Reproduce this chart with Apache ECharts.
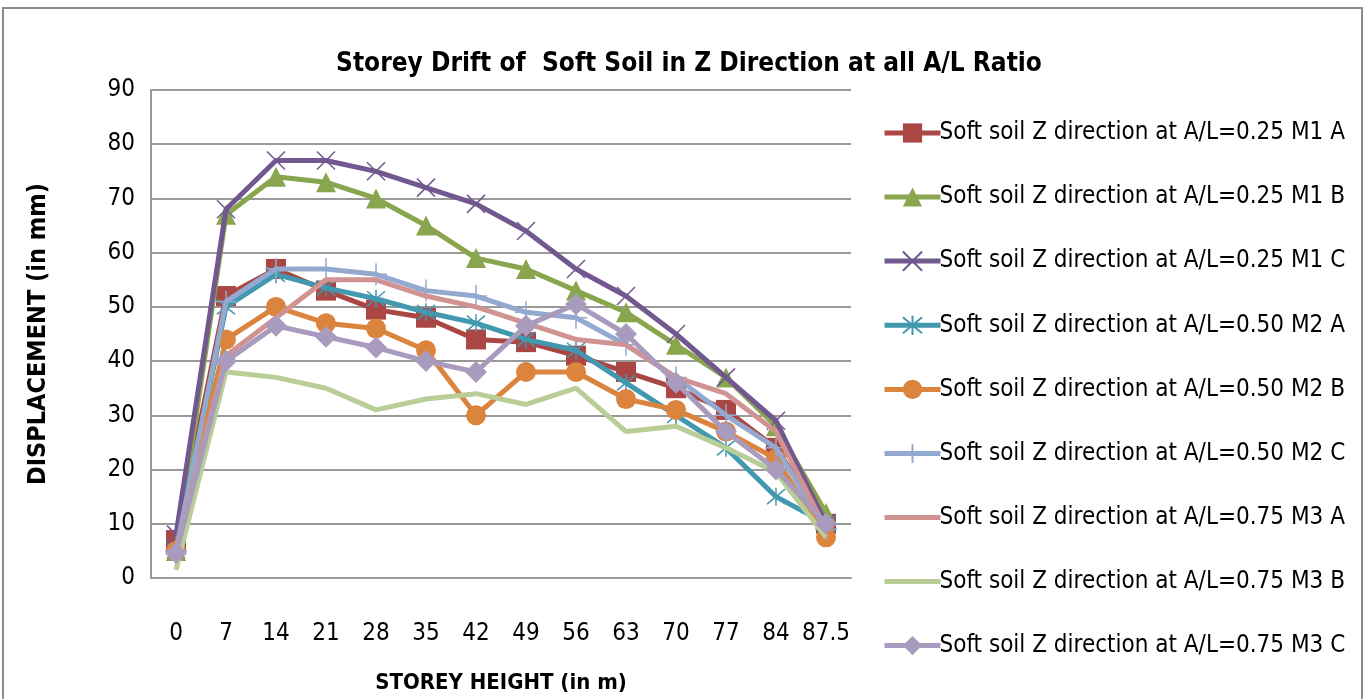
<!DOCTYPE html>
<html>
<head>
<meta charset="utf-8">
<script src="https://cdn.jsdelivr.net/npm/echarts@6/dist/echarts.min.js"></script>
<style>
  html, body { margin: 0; padding: 0; background: #fff; }
  #chart { width: 1368px; height: 699px; }
</style>
</head>
<body>
<div id="chart"></div>
<script>
var heights = ['0', '7', '14', '21', '28', '35', '42', '49', '56', '63', '70', '77', '84', '87.5'];

var m1a = [7, 52, 57, 53, 49.5, 48, 44, 43.5, 41, 38, 35, 31, 24, 10];
var m1b = [5, 67, 74, 73, 70, 65, 59, 57, 53, 49, 43, 37, 28, 12];
var m1c = [8, 68, 77, 77, 75, 72, 69, 64, 57, 52, 45, 37, 29, 10];
var m2a = [5, 50, 56, 53.5, 51.5, 49, 47, 44, 42, 36, 30, 24, 15, 10];
var m2b = [5, 44, 50, 47, 46, 42, 30, 38, 38, 33, 31, 27, 22, 7.5];
var m2c = [5, 51, 57, 57, 56, 53, 52, 49, 48, 43, 37, 30, 24, 9];
var m3a = [5, 41, 48, 55, 55, 52, 50, 47, 44, 43, 37, 34, 27, 9];
var m3b = [1.5, 38, 37, 35, 31, 33, 34, 32, 35, 27, 28, 24, 19.5, 7.5];
var m3c = [4.6, 40, 46.5, 44.5, 42.5, 40, 38, 46.5, 50.5, 45, 36, 27, 20, 10];

var names = [
  'Soft soil Z direction at A/L=0.25 M1 A',
  'Soft soil Z direction at A/L=0.25 M1 B',
  'Soft soil Z direction at A/L=0.25 M1 C',
  'Soft soil Z direction at A/L=0.50 M2 A',
  'Soft soil Z direction at A/L=0.50 M2 B',
  'Soft soil Z direction at A/L=0.50 M2 C',
  'Soft soil Z direction at A/L=0.75 M3 A',
  'Soft soil Z direction at A/L=0.75 M3 B',
  'Soft soil Z direction at A/L=0.75 M3 C'
];
var colors = ['#AA4643', '#89A54E', '#71588F', '#4198AF', '#DB843D', '#93A9CF', '#D19392', '#B9CD96', '#A99BBD'];

var xMark = 'path://M0,0L10,10M10,0L0,10';
var starMark = 'path://M0,0L10,10M10,0L0,10M5,-1L5,11';
var plusMark = 'path://M5,0L5,10M0,5L10,5';
var noMark = 'path://M0,0L10,10';

function mkSeries(i, data, symbol, size, stroke) {
  var s = {
    name: names[i],
    type: 'line',
    data: data,
    symbol: symbol,
    symbolSize: size,
    showSymbol: symbol !== noMark,
    lineStyle: { color: colors[i], width: 5 },
    itemStyle: { color: colors[i] },
    z: 2 + i
  };
  if (stroke) {
    s.itemStyle = { color: 'none', borderColor: colors[i], borderWidth: 1.5 };
  }
  if (symbol === noMark) {
    s.itemStyle = { color: colors[i], borderWidth: 0 };
  }
  return s;
}

var fontMain = '"Liberation Sans Narrow", "DejaVu Sans Condensed", "Liberation Sans", sans-serif';

var chart = echarts.init(document.getElementById('chart'));
chart.setOption({
  animation: false,
  color: colors,
  title: {
    text: 'Storey Drift of  Soft Soil in Z Direction at all A/L Ratio',
    left: 684,
    textAlign: 'center',
    top: 46,
    textStyle: { fontFamily: fontMain, fontSize: 26, fontWeight: 'bold', color: '#000' }
  },
  graphic: [{
    type: 'rect',
    shape: { x: 3, y: 8, width: 1359, height: 700 },
    style: { fill: 'none', stroke: '#8c8c8c', lineWidth: 2 },
    silent: true
  }],
  legend: {
    orient: 'vertical',
    left: 877,
    top: 116,
    itemWidth: 56,
    itemHeight: 24,
    itemGap: 40,
    lineStyle: { width: 5 },
    textStyle: { fontFamily: fontMain, fontSize: 24, color: '#000', padding: [0, 0, 0, -6] },
    data: names
  },
  grid: { left: 151, top: 90, width: 700, height: 488, outerBoundsMode: 'none' },
  xAxis: {
    type: 'category',
    data: heights,
    boundaryGap: true,
    name: 'STOREY HEIGHT (in m)',
    nameLocation: 'middle',
    nameGap: 94,
    nameTextStyle: { fontFamily: fontMain, fontSize: 22, fontWeight: 'bold', color: '#000' },
    axisLine: { lineStyle: { color: '#999', width: 2 } },
    axisTick: { show: false },
    axisLabel: { interval: 0, fontFamily: fontMain, fontSize: 24, color: '#000', margin: 44 }
  },
  yAxis: {
    type: 'value',
    min: 0,
    max: 90,
    interval: 10,
    name: 'DISPLACEMENT (in mm)',
    nameLocation: 'middle',
    nameGap: 100,
    nameTextStyle: { fontFamily: fontMain, fontSize: 25, fontWeight: 'bold', color: '#000' },
    axisLine: { show: true, lineStyle: { color: '#999', width: 2 } },
    axisTick: { show: false },
    splitLine: { lineStyle: { color: '#999', width: 2 } },
    axisLabel: { fontFamily: fontMain, fontSize: 24, color: '#000', margin: 16 }
  },
  series: [
    mkSeries(0, m1a, 'rect', 20),
    mkSeries(1, m1b, 'triangle', 20),
    mkSeries(2, m1c, xMark, 18, true),
    mkSeries(3, m2a, starMark, 18, true),
    mkSeries(4, m2b, 'circle', 20),
    mkSeries(5, m2c, plusMark, 22, true),
    mkSeries(6, m3a, noMark, 0),
    mkSeries(7, m3b, noMark, 0),
    mkSeries(8, m3c, 'diamond', 22)
  ]
});
</script>
</body>
</html>
